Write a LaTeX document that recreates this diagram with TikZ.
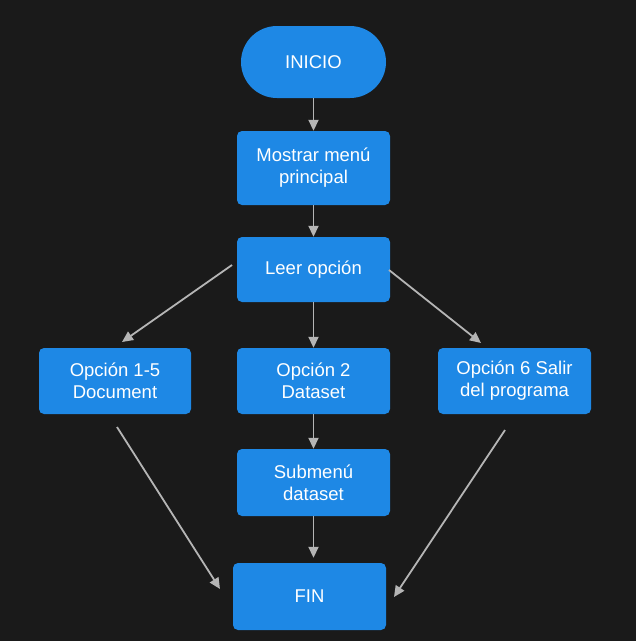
\documentclass[tikz,border=0pt]{standalone}
\usepackage{fontspec}
\setmainfont{Liberation Sans}
\usetikzlibrary{arrows.meta}
\definecolor{bg}{HTML}{1A1A1A}
\definecolor{boxblue}{HTML}{1E88E5}
\definecolor{arrowgray}{HTML}{B5B5B5}
\tikzset{
  box/.style={fill=boxblue, draw=none, rounded corners=5pt, text=white, align=center,
    font=\fontsize{18.5}{22}\selectfont, inner sep=0pt},
  pill/.style={fill=boxblue, draw=none, rounded corners=36pt, text=white, align=center,
    font=\fontsize{18.5}{22}\selectfont, inner sep=0pt, minimum width=145pt, minimum height=72pt},
  conn/.style={draw=arrowgray, line width=1.8pt, -{Triangle[length=11pt,width=10pt]}}
}
\begin{document}
\begin{tikzpicture}[x=1pt,y=-1pt]
\fill[bg] (0,0) rectangle (636,641);
\useasboundingbox (0,0) rectangle (636,641);
\node[pill] (inicio) at (313.5,62) {INICIO};
\node[box, minimum width=153pt, minimum height=74pt] (mostrar) at (313.5,168) {Mostrar menú\\principal};
\node[box, minimum width=153pt, minimum height=65pt] (leer) at (313.5,269.5) {Leer opción};
\node[box, minimum width=152pt, minimum height=66pt] (op1) at (115,381) {Opción 1-5\\Document};
\node[box, minimum width=153pt, minimum height=66pt] (op2) at (313.5,381) {Opción 2\\Dataset};
\node[box, minimum width=153pt, minimum height=66pt] (op6) at (514.5,381) {Opción 6 Salir\\del programa};
\node[box, minimum width=153pt, minimum height=67pt] (sub) at (313.5,482.5) {Submenú\\dataset};
\node[box, minimum width=153pt, minimum height=67pt] (fin) at (309.5,596.5) {FIN};
\coordinate (l1s) at (232,265);
\coordinate (l1e) at (122,342);
\coordinate (r1s) at (389,270);
\coordinate (r1e) at (481,343);
\coordinate (d1s) at (117,427);
\coordinate (d1e) at (220,589);
\coordinate (d2s) at (505,430);
\coordinate (d2e) at (394,597);
\draw[conn] (inicio.south) -- (mostrar.north);
\draw[conn] (mostrar.south) -- (leer.north);
\draw[conn] (leer.south) -- (op2.north);
\draw[conn] (op2.south) -- (sub.north);
\draw[conn, shorten >=5pt] (sub.south) -- (sub.south |- fin.north);
\draw[conn] (l1s) -- (l1e);
\draw[conn] (r1s) -- (r1e);
\draw[conn] (d1s) -- (d1e);
\draw[conn] (d2s) -- (d2e);
\end{tikzpicture}
\end{document}
